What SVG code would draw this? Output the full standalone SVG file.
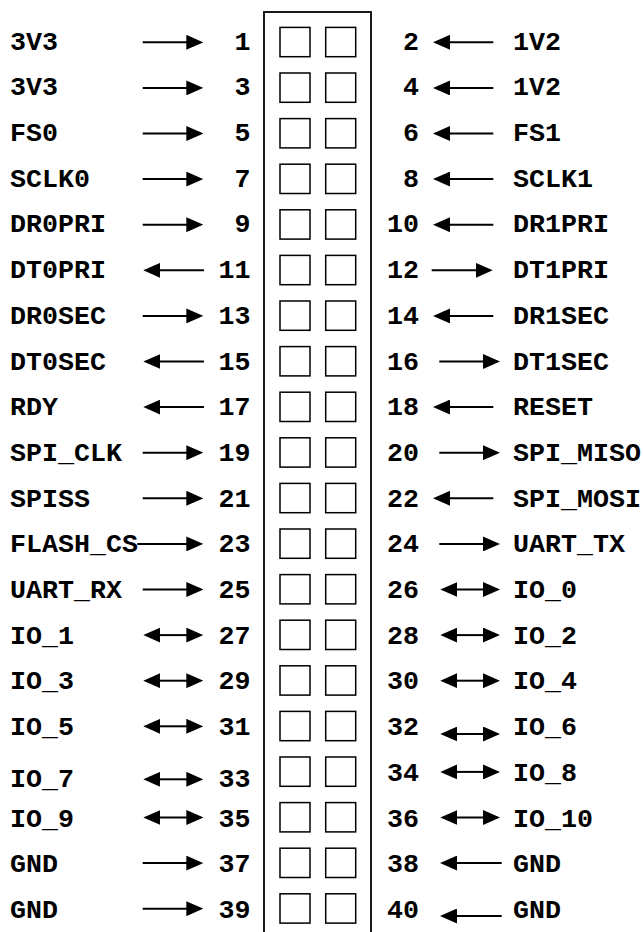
<svg xmlns="http://www.w3.org/2000/svg" width="643" height="932" viewBox="0 0 643 932">
<style>
.t{font-family:"Liberation Mono","Courier New",monospace;font-weight:bold;font-size:26.67px;fill:#000}
.n{text-anchor:end}
.pad{fill:#fff;stroke:#000;stroke-width:1.5}
.frame{fill:#fff;stroke:#000;stroke-width:1.8}
.w{fill:none;stroke:#000;stroke-width:2;marker-end:url(#ah)}
.d{marker-start:url(#ah)}
</style>
<defs>
<marker id="ah" viewBox="0 0 17 15" refX="1" refY="7.5" markerWidth="17" markerHeight="15" markerUnits="userSpaceOnUse" orient="auto-start-reverse"><path d="M0,0 L17,7.5 L0,15 Z" fill="#000"/></marker>
</defs>
<rect fill="#fff" width="643" height="932"/>
<g id="header">
<rect class="frame" x="264" y="12" width="107" height="940"/>
</g>
<g id="pins">
<g id="pin-1"><rect class="pad" x="280" y="27.4" width="30" height="29.3"/><text class="t n" x="250.5" y="49.6">1</text></g>
<g id="pin-2"><rect class="pad" x="325.7" y="27.4" width="30" height="29.3"/><text class="t n" x="419" y="49.6">2</text></g>
<g id="pin-3"><rect class="pad" x="280" y="73" width="30" height="29.3"/><text class="t n" x="250.5" y="95.3">3</text></g>
<g id="pin-4"><rect class="pad" x="325.7" y="73" width="30" height="29.3"/><text class="t n" x="419" y="95.3">4</text></g>
<g id="pin-5"><rect class="pad" x="280" y="118.6" width="30" height="29.3"/><text class="t n" x="250.5" y="141">5</text></g>
<g id="pin-6"><rect class="pad" x="325.7" y="118.6" width="30" height="29.3"/><text class="t n" x="419" y="141">6</text></g>
<g id="pin-7"><rect class="pad" x="280" y="164.2" width="30" height="29.3"/><text class="t n" x="250.5" y="186.7">7</text></g>
<g id="pin-8"><rect class="pad" x="325.7" y="164.2" width="30" height="29.3"/><text class="t n" x="419" y="186.7">8</text></g>
<g id="pin-9"><rect class="pad" x="280" y="209.8" width="30" height="29.3"/><text class="t n" x="250.5" y="232.4">9</text></g>
<g id="pin-10"><rect class="pad" x="325.7" y="209.8" width="30" height="29.3"/><text class="t n" x="419" y="232.4">10</text></g>
<g id="pin-11"><rect class="pad" x="280" y="255.4" width="30" height="29.3"/><text class="t n" x="250.5" y="278.1">11</text></g>
<g id="pin-12"><rect class="pad" x="325.7" y="255.4" width="30" height="29.3"/><text class="t n" x="419" y="278.1">12</text></g>
<g id="pin-13"><rect class="pad" x="280" y="301" width="30" height="29.3"/><text class="t n" x="250.5" y="323.8">13</text></g>
<g id="pin-14"><rect class="pad" x="325.7" y="301" width="30" height="29.3"/><text class="t n" x="419" y="323.8">14</text></g>
<g id="pin-15"><rect class="pad" x="280" y="346.6" width="30" height="29.3"/><text class="t n" x="250.5" y="369.5">15</text></g>
<g id="pin-16"><rect class="pad" x="325.7" y="346.6" width="30" height="29.3"/><text class="t n" x="419" y="369.5">16</text></g>
<g id="pin-17"><rect class="pad" x="280" y="392.2" width="30" height="29.3"/><text class="t n" x="250.5" y="415.2">17</text></g>
<g id="pin-18"><rect class="pad" x="325.7" y="392.2" width="30" height="29.3"/><text class="t n" x="419" y="415.2">18</text></g>
<g id="pin-19"><rect class="pad" x="280" y="437.8" width="30" height="29.3"/><text class="t n" x="250.5" y="460.9">19</text></g>
<g id="pin-20"><rect class="pad" x="325.7" y="437.8" width="30" height="29.3"/><text class="t n" x="419" y="460.9">20</text></g>
<g id="pin-21"><rect class="pad" x="280" y="483.4" width="30" height="29.3"/><text class="t n" x="250.5" y="506.6">21</text></g>
<g id="pin-22"><rect class="pad" x="325.7" y="483.4" width="30" height="29.3"/><text class="t n" x="419" y="506.6">22</text></g>
<g id="pin-23"><rect class="pad" x="280" y="529" width="30" height="29.3"/><text class="t n" x="250.5" y="552.3">23</text></g>
<g id="pin-24"><rect class="pad" x="325.7" y="529" width="30" height="29.3"/><text class="t n" x="419" y="552.3">24</text></g>
<g id="pin-25"><rect class="pad" x="280" y="574.6" width="30" height="29.3"/><text class="t n" x="250.5" y="598">25</text></g>
<g id="pin-26"><rect class="pad" x="325.7" y="574.6" width="30" height="29.3"/><text class="t n" x="419" y="598">26</text></g>
<g id="pin-27"><rect class="pad" x="280" y="620.2" width="30" height="29.3"/><text class="t n" x="250.5" y="643.7">27</text></g>
<g id="pin-28"><rect class="pad" x="325.7" y="620.2" width="30" height="29.3"/><text class="t n" x="419" y="643.7">28</text></g>
<g id="pin-29"><rect class="pad" x="280" y="665.8" width="30" height="29.3"/><text class="t n" x="250.5" y="689.4">29</text></g>
<g id="pin-30"><rect class="pad" x="325.7" y="665.8" width="30" height="29.3"/><text class="t n" x="419" y="689.4">30</text></g>
<g id="pin-31"><rect class="pad" x="280" y="711.4" width="30" height="29.3"/><text class="t n" x="250.5" y="735.1">31</text></g>
<g id="pin-32"><rect class="pad" x="325.7" y="711.4" width="30" height="29.3"/><text class="t n" x="419" y="735.1">32</text></g>
<g id="pin-33"><rect class="pad" x="280" y="757" width="30" height="29.3"/><text class="t n" x="250.5" y="786.7">33</text></g>
<g id="pin-34"><rect class="pad" x="325.7" y="757" width="30" height="29.3"/><text class="t n" x="419" y="780.8">34</text></g>
<g id="pin-35"><rect class="pad" x="280" y="802.6" width="30" height="29.3"/><text class="t n" x="250.5" y="826.5">35</text></g>
<g id="pin-36"><rect class="pad" x="325.7" y="802.6" width="30" height="29.3"/><text class="t n" x="419" y="826.5">36</text></g>
<g id="pin-37"><rect class="pad" x="280" y="848.2" width="30" height="29.3"/><text class="t n" x="250.5" y="872.2">37</text></g>
<g id="pin-38"><rect class="pad" x="325.7" y="848.2" width="30" height="29.3"/><text class="t n" x="419" y="872.2">38</text></g>
<g id="pin-39"><rect class="pad" x="280" y="893.8" width="30" height="29.3"/><text class="t n" x="250.5" y="917.9">39</text></g>
<g id="pin-40"><rect class="pad" x="325.7" y="893.8" width="30" height="29.3"/><text class="t n" x="419" y="917.9">40</text></g>
</g>
<g id="signals">
<g id="sig-1"><text class="t" x="10" y="49.6">3V3</text></g>
<g id="sig-2"><text class="t" x="513" y="49.6">1V2</text></g>
<g id="sig-3"><text class="t" x="10" y="95.3">3V3</text></g>
<g id="sig-4"><text class="t" x="513" y="95.3">1V2</text></g>
<g id="sig-5"><text class="t" x="10" y="141">FS0</text></g>
<g id="sig-6"><text class="t" x="513" y="141">FS1</text></g>
<g id="sig-7"><text class="t" x="10" y="186.7">SCLK0</text></g>
<g id="sig-8"><text class="t" x="513" y="186.7">SCLK1</text></g>
<g id="sig-9"><text class="t" x="10" y="232.4">DR0PRI</text></g>
<g id="sig-10"><text class="t" x="513" y="232.4">DR1PRI</text></g>
<g id="sig-11"><text class="t" x="10" y="278.1">DT0PRI</text></g>
<g id="sig-12"><text class="t" x="513" y="278.1">DT1PRI</text></g>
<g id="sig-13"><text class="t" x="10" y="323.8">DR0SEC</text></g>
<g id="sig-14"><text class="t" x="513" y="323.8">DR1SEC</text></g>
<g id="sig-15"><text class="t" x="10" y="369.5">DT0SEC</text></g>
<g id="sig-16"><text class="t" x="513" y="369.5">DT1SEC</text></g>
<g id="sig-17"><text class="t" x="10" y="415.2">RDY</text></g>
<g id="sig-18"><text class="t" x="513" y="415.2">RESET</text></g>
<g id="sig-19"><text class="t" x="10" y="460.9">SPI_CLK</text></g>
<g id="sig-20"><text class="t" x="513" y="460.9">SPI_MISO</text></g>
<g id="sig-21"><text class="t" x="10" y="506.6">SPISS</text></g>
<g id="sig-22"><text class="t" x="513" y="506.6">SPI_MOSI</text></g>
<g id="sig-23"><text class="t" x="10" y="552.3">FLASH_CS</text></g>
<g id="sig-24"><text class="t" x="513" y="552.3">UART_TX</text></g>
<g id="sig-25"><text class="t" x="10" y="598">UART_RX</text></g>
<g id="sig-26"><text class="t" x="513" y="598">IO_0</text></g>
<g id="sig-27"><text class="t" x="10" y="643.7">IO_1</text></g>
<g id="sig-28"><text class="t" x="513" y="643.7">IO_2</text></g>
<g id="sig-29"><text class="t" x="10" y="689.4">IO_3</text></g>
<g id="sig-30"><text class="t" x="513" y="689.4">IO_4</text></g>
<g id="sig-31"><text class="t" x="10" y="735.1">IO_5</text></g>
<g id="sig-32"><text class="t" x="513" y="735.1">IO_6</text></g>
<g id="sig-33"><text class="t" x="10" y="786.7">IO_7</text></g>
<g id="sig-34"><text class="t" x="513" y="780.8">IO_8</text></g>
<g id="sig-35"><text class="t" x="10" y="826.5">IO_9</text></g>
<g id="sig-36"><text class="t" x="513" y="826.5">IO_10</text></g>
<g id="sig-37"><text class="t" x="10" y="872.2">GND</text></g>
<g id="sig-38"><text class="t" x="513" y="872.2">GND</text></g>
<g id="sig-39"><text class="t" x="10" y="917.9">GND</text></g>
<g id="sig-40"><text class="t" x="513" y="917.9">GND</text></g>
</g>
<g id="connectors">
<path class="w" d="M142.7,42.3H187.3"/>
<path class="w" d="M142.7,87.9H187.3"/>
<path class="w" d="M142.7,133.5H187.3"/>
<path class="w" d="M142.7,179.1H187.3"/>
<path class="w" d="M142.7,224.7H187.3"/>
<path class="w" d="M204,270.3H159.3"/>
<path class="w" d="M142.7,315.9H187.3"/>
<path class="w" d="M204,361.5H159.3"/>
<path class="w" d="M204,407.1H159.3"/>
<path class="w" d="M142.7,452.7H187.3"/>
<path class="w" d="M142.7,498.3H187.3"/>
<path class="w" d="M137.3,543.9H187.3"/>
<path class="w" d="M142.7,589.5H187.3"/>
<path class="w d" d="M159.3,635.1H187.3"/>
<path class="w d" d="M159.3,680.7H187.3"/>
<path class="w d" d="M159.3,726.3H187.3"/>
<path class="w d" d="M159.3,779.3H187.3"/>
<path class="w d" d="M159.3,817.5H187.3"/>
<path class="w" d="M142.7,863.1H187.3"/>
<path class="w" d="M142.7,908.7H187.3"/>
<path class="w" d="M493.3,42.3H449"/>
<path class="w" d="M493.3,87.9H449"/>
<path class="w" d="M493.3,133.5H449"/>
<path class="w" d="M493.3,179.1H449"/>
<path class="w" d="M493.3,224.7H449"/>
<path class="w" d="M431.7,270.3H476.7"/>
<path class="w" d="M493.3,315.9H449"/>
<path class="w" d="M439.3,361.5H484"/>
<path class="w" d="M493.3,407.1H449"/>
<path class="w" d="M439.3,452.7H484"/>
<path class="w" d="M493.3,498.3H449"/>
<path class="w" d="M439.3,543.9H484"/>
<path class="w d" d="M456.3,589.5H484"/>
<path class="w d" d="M456.3,635.1H484"/>
<path class="w d" d="M456.3,680.7H484"/>
<path class="w d" d="M456.3,734H484"/>
<path class="w d" d="M456.3,771.9H484"/>
<path class="w d" d="M456.3,817.5H484"/>
<path class="w" d="M501.7,863.1H456"/>
<path class="w" d="M501.7,916H456"/>
</g>
</svg>
